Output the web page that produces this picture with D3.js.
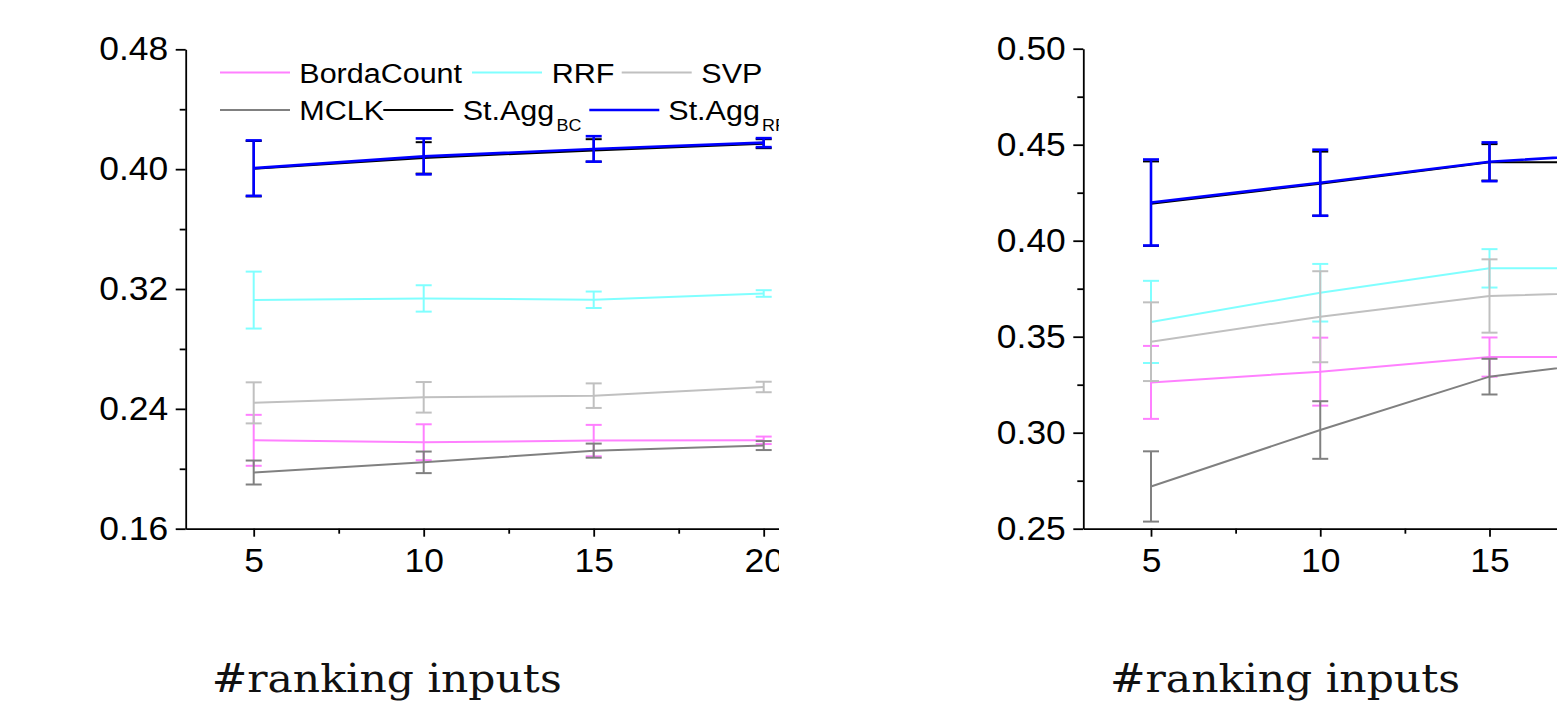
<!DOCTYPE html>
<html><head><meta charset="utf-8">
<script src="https://cdn.jsdelivr.net/npm/d3@7"></script>
<style>html,body{margin:0;padding:0;background:#fff;}svg{display:block;}</style>
</head><body>
<svg id="chart" width="1557" height="709"></svg>
<script>
// ---------- data ----------
const xValues = [5, 10, 15, 20];
const xTickValues = [5, 10, 15, 20];
const xMinorTicks = [7.5, 12.5, 17.5];
const seriesNames = ["BordaCount", "RRF", "SVP", "MCLK", "St.Agg_BC", "St.Agg_RF"];
const seriesColors = ["#ff80ff", "#80ffff", "#c0c0c0", "#808080", "#000000", "#0000ff"];

// left panel
const leftYTicks = [0.16, 0.24, 0.32, 0.40, 0.48];
const leftYMinor = [0.20, 0.28, 0.36, 0.44];
const leftBorda    = [0.2190, 0.2177, 0.2188, 0.2190];
const leftBordaErr = [0.0170, 0.0120, 0.0105, 0.0025];
const leftRRF      = [0.3126, 0.3137, 0.3128, 0.3170];
const leftRRFErr   = [0.0190, 0.0088, 0.0055, 0.0022];
const leftSVP      = [0.2440, 0.2477, 0.2488, 0.2546];
const leftSVPErr   = [0.0137, 0.0102, 0.0082, 0.0035];
const leftMCLK     = [0.1975, 0.2043, 0.2121, 0.2155];
const leftMCLKErr  = [0.0080, 0.0072, 0.0047, 0.0030];
const leftAggBC    = [0.4003, 0.4075, 0.4125, 0.4170];
const leftAggBCErr = [0.0185, 0.0105, 0.0075, 0.0030];
const leftAggRF    = [0.4007, 0.4085, 0.4135, 0.4177];
const leftAggRFErr = [0.0185, 0.0120, 0.0085, 0.0030];

// right panel
const rightYTicks = [0.25, 0.30, 0.35, 0.40, 0.45, 0.50];
const rightYMinor = [0.275, 0.325, 0.375, 0.425, 0.475];
const rightBorda    = [0.3262, 0.3318, 0.3394, 0.3394];
const rightBordaErr = [0.0190, 0.0177, 0.0102, 0.0040];
const rightRRF      = [0.3577, 0.3729, 0.3856, 0.3856];
const rightRRFErr   = [0.0214, 0.0150, 0.0100, 0.0040];
const rightSVP      = [0.3474, 0.3604, 0.3712, 0.3738];
const rightSVPErr   = [0.0205, 0.0237, 0.0191, 0.0040];
const rightMCLK     = [0.2720, 0.3014, 0.3292, 0.3402];
const rightMCLKErr  = [0.0183, 0.0150, 0.0093, 0.0040];
const rightAggBC    = [0.4193, 0.4297, 0.4408, 0.4408];
const rightAggBCErr = [0.0220, 0.0167, 0.0095, 0.0040];
const rightAggRF    = [0.4199, 0.4302, 0.4411, 0.4465];
const rightAggRFErr = [0.0224, 0.0172, 0.0101, 0.0040];

const xLabel = "#ranking inputs";

// ---------- layout ----------
const svg = d3.select("#chart");
const STRETCH = 1.09;
const sans = "'Liberation Sans', Arial, Helvetica, sans-serif";

const panels = [
  {
    id: "L", axisX: 185.7, top: 49.3, bottom: 528.7, pxPerUnit: 34, clipLeft: 0, clipRight: 779,
    yDomain: [0.16, 0.48], yTicks: leftYTicks, yMinor: leftYMinor,
    series: [
      [leftBorda, leftBordaErr], [leftRRF, leftRRFErr], [leftSVP, leftSVPErr],
      [leftMCLK, leftMCLKErr], [leftAggBC, leftAggBCErr], [leftAggRF, leftAggRFErr]
    ],
    legend: true, labelX: 386.7
  },
  {
    id: "R", axisX: 1083.3, top: 48.7, bottom: 528.7, pxPerUnit: 33.85, clipLeft: 790, clipRight: 1557,
    yDomain: [0.25, 0.50], yTicks: rightYTicks, yMinor: rightYMinor,
    series: [
      [rightBorda, rightBordaErr], [rightRRF, rightRRFErr], [rightSVP, rightSVPErr],
      [rightMCLK, rightMCLKErr], [rightAggBC, rightAggBCErr], [rightAggRF, rightAggRFErr]
    ],
    legend: false, labelX: 1285
  }
];

const defs = svg.append("defs");

function stretchText(sel) {
  sel.each(function() {
    const t = d3.select(this);
    const x = +t.attr("x") || 0;
    t.attr("x", x / STRETCH).attr("transform", `scale(${STRETCH},1)`);
  });
}

panels.forEach(p => {
  defs.append("clipPath").attr("id", "clip" + p.id)
    .append("rect").attr("x", p.clipLeft).attr("y", 0)
    .attr("width", p.clipRight - p.clipLeft).attr("height", 709);

  const g = svg.append("g").attr("clip-path", `url(#clip${p.id})`);

  const x = d3.scaleLinear().domain([3, 23]).range([p.axisX, p.axisX + 20 * p.pxPerUnit]);
  const y = d3.scaleLinear().domain(p.yDomain).range([p.bottom, p.top]);

  // only ticks whose label starts inside the visible area
  const visTicks = xTickValues.filter(v => x(v) - 15 < p.clipRight);
  const visMinor = xMinorTicks.filter(v => x(v) < p.clipRight);

  // series
  const lineGen = d3.line().x((d, i) => x(xValues[i])).y(d => y(d));
  p.series.forEach(([vals, errs], si) => {
    const color = seriesColors[si];
    const isBlue = si === 5;
    const sg = g.append("g");
    sg.append("path").datum(vals).attr("d", lineGen)
      .attr("fill", "none").attr("stroke", color)
      .attr("stroke-width", isBlue ? 2.6 : 2);
    const eg = sg.selectAll("g.err").data(vals).enter().append("g")
      .attr("stroke", color).attr("stroke-width", isBlue ? 2.6 : 2);
    eg.append("line")
      .attr("x1", (d, i) => x(xValues[i])).attr("x2", (d, i) => x(xValues[i]))
      .attr("y1", (d, i) => y(d + errs[i])).attr("y2", (d, i) => y(d - errs[i]));
    eg.append("line")
      .attr("x1", (d, i) => x(xValues[i]) - 8).attr("x2", (d, i) => x(xValues[i]) + 8)
      .attr("y1", (d, i) => y(d + errs[i])).attr("y2", (d, i) => y(d + errs[i]));
    eg.append("line")
      .attr("x1", (d, i) => x(xValues[i]) - 8).attr("x2", (d, i) => x(xValues[i]) + 8)
      .attr("y1", (d, i) => y(d - errs[i])).attr("y2", (d, i) => y(d - errs[i]));
  });

  // y axis
  const yAxisG = g.append("g").attr("transform", `translate(${p.axisX},0)`)
    .call(d3.axisLeft(y).tickValues(p.yTicks).tickFormat(d3.format(".2f"))
      .tickSize(10).tickSizeOuter(0).tickPadding(7.5));
  yAxisG.selectAll("text").attr("font-family", sans).attr("font-size", 32.5).attr("fill", "#000").call(stretchText);
  yAxisG.append("g").call(d3.axisLeft(y).tickValues(p.yMinor).tickFormat("").tickSize(6).tickSizeOuter(0))
    .select(".domain").remove();

  // x axis
  const xAxisG = g.append("g").attr("transform", `translate(0,${p.bottom})`)
    .call(d3.axisBottom(x).tickValues(visTicks).tickFormat(d3.format("d"))
      .tickSize(8).tickSizeOuter(0).tickPadding(12.5));
  xAxisG.selectAll("text").attr("font-family", sans).attr("font-size", 32.5).attr("fill", "#000").call(stretchText);
  xAxisG.append("g").call(d3.axisBottom(x).tickValues(visMinor).tickFormat("").tickSize(5).tickSizeOuter(0))
    .select(".domain").remove();

  [yAxisG, xAxisG].forEach(a => {
    a.selectAll("path, line").attr("stroke", "#000").attr("stroke-width", 1.8);
  });

  // legend
  if (p.legend) {
    const lg = g.append("g");
    const rows = [
      { y: 72.5, base: 83.3, items: [[0, 220, 299.3], [1, 472, 551.7], [2, 621.7, 701.3]] },
      { y: 110, base: 120, items: [[3, 220, 299.3], [4, 383.3, 462.7], [5, 589.3, 668.3]] }
    ];
    rows.forEach(r => {
      r.items.forEach(([si, lx, tx]) => {
        lg.append("line").attr("x1", lx).attr("x2", lx + 70).attr("y1", r.y).attr("y2", r.y)
          .attr("stroke", seriesColors[si]).attr("stroke-width", si === 5 ? 2.6 : 2.2);
        const name = seriesNames[si];
        const parts = name.split("_");
        const t = lg.append("text").attr("x", tx / STRETCH).attr("y", r.base)
          .attr("transform", `scale(${STRETCH},1)`)
          .attr("font-family", sans).attr("font-size", 28).attr("fill", "#000");
        t.append("tspan").text(parts[0]);
        if (parts[1]) {
          t.append("tspan").attr("dy", 11.5).attr("dx", 2).attr("font-size", 16.5).text(parts[1]);
        }
      });
    });
  }

  // x label
  svg.append("text").attr("x", p.labelX).attr("y", 691.7)
    .attr("text-anchor", "middle")
    .attr("font-family", "'DejaVu Serif', serif").attr("font-size", 40)
    .attr("textLength", 350).attr("lengthAdjust", "spacingAndGlyphs")
    .attr("fill", "#111").text(xLabel);
});
</script>
</body></html>
